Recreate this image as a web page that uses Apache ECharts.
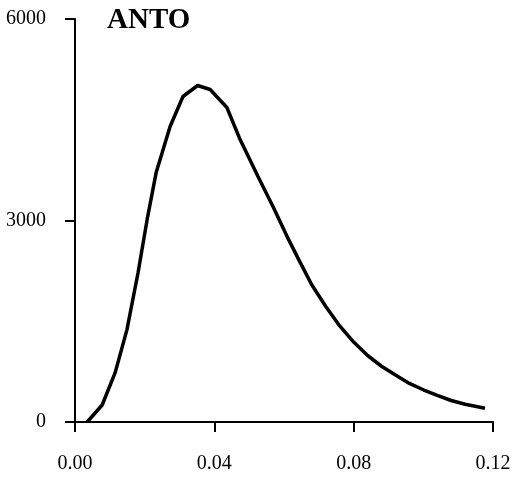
<!DOCTYPE html>
<html>
<head>
<meta charset="utf-8">
<script src="https://cdn.jsdelivr.net/npm/echarts@6/dist/echarts.min.js"></script>
<style>
  html, body { margin: 0; padding: 0; background: #fff; }
  #main { width: 515px; height: 484px; }
</style>
</head>
<body>
<div id="main"></div>
<script>
// curve: [x, y]
const xValues = [0.0035, 0.0078, 0.0115, 0.0149, 0.0181, 0.0207, 0.0233, 0.0273, 0.0310, 0.0352,
  0.0388, 0.0436, 0.0474, 0.0525, 0.0569, 0.0609, 0.0646, 0.068, 0.072, 0.076, 0.080,
  0.084, 0.088, 0.092, 0.096, 0.100, 0.104, 0.108, 0.112, 0.1177];
const yValues = [0, 253, 730, 1372, 2222, 3012, 3713, 4399, 4846, 5010,
  4950, 4682, 4205, 3660, 3200, 2760, 2380, 2040, 1720, 1430, 1190,
  990, 830, 700, 575, 480, 395, 320, 265, 205];
const xTicks = [0, 0.04, 0.08, 0.12];
const yTicks = [0, 3000, 6000];
const title = 'ANTO';

const chart = echarts.init(document.getElementById('main'));
const labelFont = {
  color: '#000',
  fontFamily: 'Liberation Serif',
  fontSize: 20
};
var option = {
  animation: false,
  title: {
    text: title,
    left: 102,
    top: 1,
    textStyle: {
      fontFamily: 'Liberation Serif',
      fontWeight: 'bold',
      fontSize: 29,
      color: '#000'
    }
  },
  grid: {
    left: 75,
    right: 22,
    top: 19,
    bottom: 62
  },
  xAxis: {
    type: 'value',
    min: xTicks[0],
    max: xTicks[xTicks.length - 1],
    interval: 0.04,
    splitLine: { show: false },
    axisLine: { onZero: false, lineStyle: { color: '#000', width: 2 } },
    axisTick: { show: true, length: 10, lineStyle: { color: '#000', width: 2 } },
    axisLabel: Object.assign({ margin: 32, formatter: v => v.toFixed(2) }, labelFont)
  },
  yAxis: {
    type: 'value',
    min: yTicks[0],
    max: yTicks[yTicks.length - 1],
    interval: 3000,
    splitLine: { show: false },
    axisLine: { show: true, lineStyle: { color: '#000', width: 2 } },
    axisTick: { show: true, length: 10, lineStyle: { color: '#000', width: 2 } },
    axisLabel: Object.assign({ margin: 29, formatter: v => String(v) }, labelFont)
  },
  series: [
    {
      type: 'line',
      data: xValues.map((x, i) => [x, yValues[i]]),
      showSymbol: false,
      smooth: false,
      lineStyle: { color: '#000', width: 3.5 }
    }
  ]
};
chart.setOption(option);
</script>
</body>
</html>
